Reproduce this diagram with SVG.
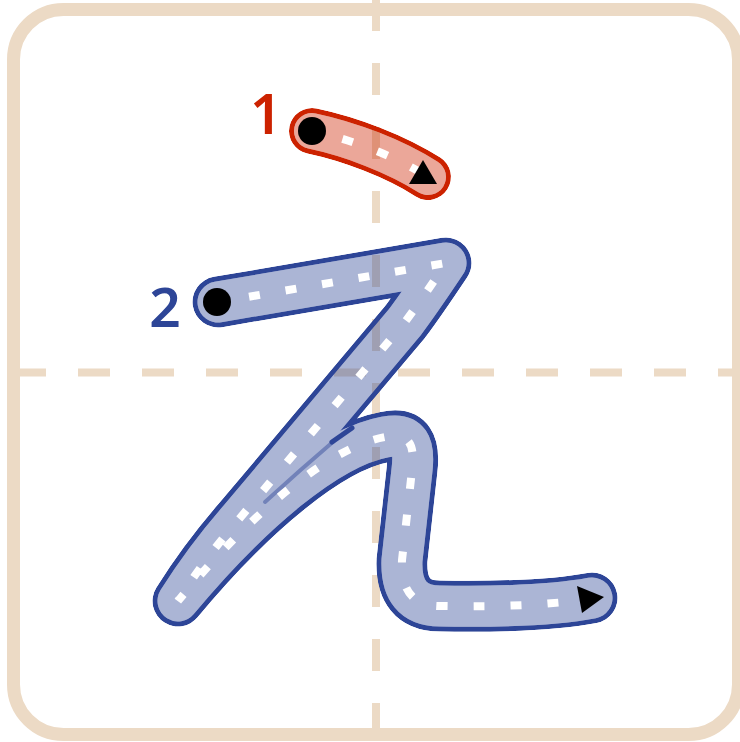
<svg xmlns="http://www.w3.org/2000/svg" width="740" height="742" viewBox="0 0 740 742">
<style>
.guide{fill:none;stroke:#ecdac5;stroke-width:8;stroke-dasharray:32 32}
.frame{fill:#ffffff;stroke:#ecdac5;stroke-width:13}
.red-o{fill:none;stroke:#cc2200;stroke-width:46;stroke-linecap:round;stroke-linejoin:round}
.red-f{fill:none;stroke:#cc2200;stroke-opacity:0.4;stroke-width:36;stroke-linecap:round;stroke-linejoin:round}
.blue-o{fill:none;stroke:#2d4597;stroke-width:51;stroke-linecap:round;stroke-linejoin:round}
.blue-f{fill:none;stroke:#2d4597;stroke-opacity:0.4;stroke-width:41;stroke-linecap:round;stroke-linejoin:round}
.mw{fill:none;stroke:#fff;stroke-linecap:round;stroke-linejoin:round}
.mb{fill:none;stroke:#000;stroke-linecap:round;stroke-linejoin:round}
.dash{fill:none;stroke:#ffffff;stroke-width:8;stroke-dasharray:11 26;stroke-dashoffset:5.5}
.lbl{font-family:"Noto Sans","Liberation Sans",sans-serif;font-weight:600;text-anchor:middle}
</style>
<defs>
<path id="p1" d="M 312,131 C 350,139 395,156 428,177"/>
<path id="p2" d="M 218,302 L 446,263 C 432,284 420,302 405,322 L 240,518 Q 205,558 178,601 C 252,512 330,447 385,437 C 410,432 415,445 412,470 L 402,560 Q 400,606 440,606 C 500,607 555,605 592,598"/>
<mask id="m1" maskUnits="userSpaceOnUse" x="0" y="0" width="740" height="742">
<use href="#p1" class="mw" stroke-width="46"/>
<use href="#p1" class="mb" stroke-width="36"/>
</mask>
<mask id="m2" maskUnits="userSpaceOnUse" x="0" y="0" width="740" height="742">
<use href="#p2" class="mw" stroke-width="51"/>
<use href="#p2" class="mb" stroke-width="41"/>
</mask>
</defs>
<rect class="frame" x="13.5" y="9.5" width="725" height="725" rx="50"/>
<g id="guides">
<line class="guide" x1="376" y1="-1" x2="376" y2="740"/>
<line class="guide" x1="14" y1="372.5" x2="738" y2="372.5"/>
</g>
<g id="stroke1">
<use href="#p1" class="red-f"/>
<use href="#p1" class="red-o" mask="url(#m1)"/>
<use href="#p1" class="dash"/>
<circle cx="312" cy="131" r="14" fill="#000"/>
<polygon points="409,184 423,160 437,184" fill="#000"/>
<text class="lbl" x="266" y="134" font-size="56" fill="#cc2200">1</text>
</g>
<g id="stroke2">
<use href="#p2" class="blue-f"/>
<use href="#p2" class="blue-o" mask="url(#m2)"/>
<path d="M 265,502 Q 300,470 334,441" fill="none" stroke="#2d4597" stroke-opacity="0.45" stroke-width="4" stroke-linecap="round"/>
<path d="M 332,442 L 352,428" fill="none" stroke="#2d4597" stroke-width="5" stroke-linecap="round"/>
<use href="#p2" class="dash"/>
<circle cx="217" cy="302" r="14" fill="#000"/>
<polygon points="577,586 604,597 582,613" fill="#000"/>
<text class="lbl" x="165" y="327" font-size="55" fill="#2d4597">2</text>
</g>
</svg>
